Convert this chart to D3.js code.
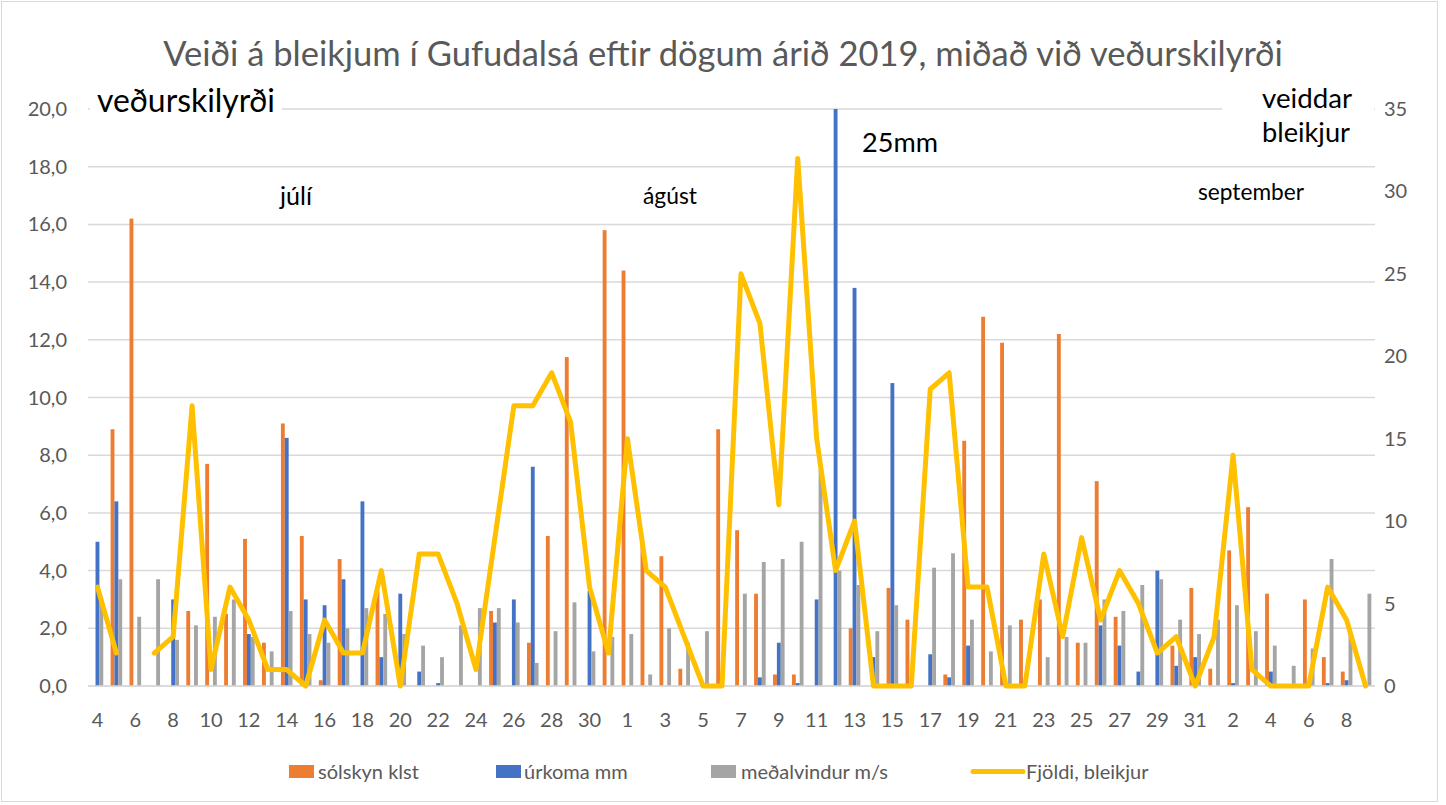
<!DOCTYPE html>
<html>
<head>
<meta charset="utf-8">
<script src="https://cdn.jsdelivr.net/npm/d3@7"></script>
<style>
  body { margin: 0; background: #fff; }
  svg { display: block; }
  text { font-family: Lato, "Open Sans", sans-serif; }
</style>
</head>
<body>
<div id="chart"></div>
<script>
"use strict";

const WIDTH = 1446, HEIGHT = 805;

// day of month, 4. júlí - 9. september 2019
const days = [4,5,6,7,8,9,10,11,12,13,14,15,16,17,18,19,20,21,22,23,24,25,26,27,28,29,30,31,
  1,2,3,4,5,6,7,8,9,10,11,12,13,14,15,16,17,18,19,20,21,22,23,24,25,26,27,28,29,30,31,
  1,2,3,4,5,6,7,8,9];

// sólskyn klst
const sun = [0,8.9,16.2,0,0,2.6,7.7,2.5,5.1,1.5,9.1,5.2,0.2,4.4,0,3.3,0,0,0,0,0,2.6,0,1.5,5.2,11.4,0,15.8,
  14.4,5.0,4.5,0.6,0,8.9,5.4,3.2,0.4,0.4,0,0,2.0,0,3.4,2.3,0,0.4,8.5,12.8,11.9,2.3,3.0,12.2,1.5,7.1,2.4,0,0,1.4,3.4,
  0.6,4.7,6.2,3.2,0,3.0,1.0,0.5,0];

// úrkoma mm
const rain = [5.0,6.4,0,0,3.0,0,0,0,1.8,0,8.6,3.0,2.8,3.7,6.4,1.0,3.2,0.5,0.1,0,0,2.2,3.0,7.6,0,0,3.3,0,
  0,0,0,0,0,0,0,0.3,1.5,0.1,3.0,25,13.8,1.0,10.5,0,1.1,0.3,1.4,0,0,0,0,0,0,2.1,1.4,0.5,4.0,0.7,1.0,
  0,0.1,0,0.5,0,0,0.1,0.2,0];

// meðalvindur m/s
const wind = [3.0,3.7,2.4,3.7,1.6,2.1,2.4,3.0,1.7,1.2,2.6,1.8,1.5,2.0,2.7,2.5,1.8,1.4,1.0,2.1,2.7,2.7,2.2,0.8,1.9,2.9,1.2,1.7,
  1.8,0.4,2.0,1.5,1.9,0,3.2,4.3,4.4,5.0,7.5,4.0,3.5,1.9,2.8,0,4.1,4.6,2.3,1.2,2.1,0,1.0,1.7,1.5,3.0,2.6,3.5,3.7,2.3,1.8,
  2.3,2.8,1.9,1.4,0.7,1.3,4.4,1.8,3.2];

// Fjöldi, bleikjur (null = engin skráning)
const fish = [6,2,null,2,3,17,1,6,4,1,1,0,4,2,2,7,0,8,8,5,1,9,17,17,19,16,6,2,
  15,7,6,3,0,0,25,22,11,32,15,7,10,0,0,0,18,19,6,6,0,0,8,3,9,4,7,5,2,3,0,
  3,14,1,0,0,0,6,4,0];

const leftTicks = [0,2,4,6,8,10,12,14,16,18,20];
const rightTicks = [0,5,10,15,20,25,30,35];
const barSeries = ["sun", "rain", "wind"];
const barColors = { sun: "#ED7D31", rain: "#4472C4", wind: "#A5A5A5" };
const lineColor = "#FFC000";
const legendLabels = ["sólskyn klst", "úrkoma mm", "meðalvindur m/s", "Fjöldi, bleikjur"];

const rows = days.map(function (d, i) {
  return { i: i, day: d, sun: sun[i], rain: rain[i], wind: wind[i], fish: fish[i] };
});

const svg = d3.select("#chart").append("svg")
  .attr("width", WIDTH)
  .attr("height", HEIGHT);

// chart frame
svg.append("rect")
  .attr("x", 1.5).attr("y", 1.5)
  .attr("width", 1436).attr("height", 800)
  .attr("fill", "#fff")
  .attr("stroke", "#d9d9d9");

const plot = { left: 88, right: 1375, top: 109, bottom: 686 };

const x0 = d3.scaleBand()
  .domain(rows.map(d => d.i))
  .range([plot.left, plot.right])
  .paddingInner(0.387)
  .paddingOuter(0.1935);
const x1 = d3.scaleBand()
  .domain(barSeries)
  .range([0, x0.bandwidth()]);
const yL = d3.scaleLinear().domain([0, 20]).range([plot.bottom, plot.top]);
const yR = d3.scaleLinear().domain([0, 35]).range([plot.bottom, plot.top]);

// gridlines
svg.append("g")
  .selectAll("line")
  .data(leftTicks)
  .join("line")
  .attr("x1", plot.left).attr("x2", plot.right)
  .attr("y1", d => yL(d)).attr("y2", d => yL(d))
  .attr("stroke", "#d9d9d9")
  .attr("stroke-width", 1.5);

// title
function fit(t, w) {
  const fs = parseFloat(t.attr("font-size"));
  const len = t.node().getComputedTextLength();
  t.attr("font-size", (fs * w / len).toFixed(2));
}
const title = svg.append("text")
  .attr("x", 723).attr("y", 66)
  .attr("text-anchor", "middle")
  .attr("font-size", 28)
  .attr("fill", "#595959")
  .text("Veiði á bleikjum í Gufudalsá eftir dögum árið 2019, miðað við veðurskilyrði");
fit(title, 1120);

// bars
svg.append("g")
  .selectAll("g")
  .data(rows)
  .join("g")
  .attr("transform", d => "translate(" + x0(d.i) + ",0)")
  .selectAll("rect")
  .data(d => barSeries.map(k => ({ key: k, value: d[k] })))
  .join("rect")
  .attr("x", d => x1(d.key))
  .attr("width", x1.bandwidth())
  .attr("y", d => yL(Math.min(d.value, 20)))
  .attr("height", d => yL(0) - yL(Math.min(d.value, 20)))
  .attr("fill", d => barColors[d.key]);

// white label boxes over the top gridline
svg.append("rect").attr("x", plot.left + 2).attr("y", 90).attr("width", 192).attr("height", 34).attr("fill", "#fff");
svg.append("rect").attr("x", 1222).attr("y", 84).attr("width", 152).attr("height", 70).attr("fill", "#fff");

// x axis line
svg.append("line")
  .attr("x1", plot.left).attr("x2", plot.right)
  .attr("y1", plot.bottom).attr("y2", plot.bottom)
  .attr("stroke", "#d9d9d9")
  .attr("stroke-width", 1.5);

// fish line
const line = d3.line()
  .defined(d => d.fish !== null)
  .x(d => x0(d.i) + x0.bandwidth() / 2)
  .y(d => yR(d.fish));
svg.append("path")
  .datum(rows)
  .attr("fill", "none")
  .attr("stroke", lineColor)
  .attr("stroke-width", 5)
  .attr("stroke-linejoin", "round")
  .attr("stroke-linecap", "round")
  .attr("d", line);

// axes labels
const fmt = d => d3.format(".1f")(d).replace(".", ",");
svg.append("g")
  .selectAll("text")
  .data(leftTicks)
  .join("text")
  .attr("x", 67).attr("y", d => yL(d))
  .attr("dy", "0.35em")
  .attr("text-anchor", "end")
  .attr("font-size", 20)
  .attr("fill", "#595959")
  .text(fmt);

svg.append("g")
  .selectAll("text")
  .data(rightTicks)
  .join("text")
  .attr("x", 1384).attr("y", d => yR(d))
  .attr("dy", "0.35em")
  .attr("font-size", 20)
  .attr("fill", "#595959")
  .text(d => d);

svg.append("g")
  .selectAll("text")
  .data(rows.filter(d => d.i % 2 === 0))
  .join("text")
  .attr("x", d => x0(d.i) + x0.bandwidth() / 2)
  .attr("y", 720)
  .attr("dy", "0.35em")
  .attr("text-anchor", "middle")
  .attr("font-size", 20)
  .attr("fill", "#595959")
  .text(d => d.day);

// annotations
function note(x, y, size, str, w) {
  const t = svg.append("text")
    .attr("x", x).attr("y", y)
    .attr("font-size", size)
    .attr("fill", "#000")
    .text(str);
  if (w) fit(t, w);
  return t;
}
note(97, 112, 24, "veðurskilyrði", 178);
note(1262, 108, 24, "veiddar", 90);
note(1262, 142, 24, "bleikjur", 88);
note(862, 152, 24, "25mm", 76);
note(280, 205, 19, "júlí", 32);
note(643, 204, 19, "ágúst", 54);
note(1198, 200, 19, "september", 106);

// legend
const legend = svg.append("g");
const lx = [289, 496, 711, 973];
const tx = [318, 524, 741, 1026];
barSeries.forEach(function (k, i) {
  legend.append("rect")
    .attr("x", lx[i]).attr("y", 765)
    .attr("width", 25).attr("height", 13)
    .attr("fill", barColors[k]);
});
legend.append("line")
  .attr("x1", lx[3]).attr("x2", lx[3] + 50)
  .attr("y1", 771.5).attr("y2", 771.5)
  .attr("stroke", lineColor)
  .attr("stroke-width", 5)
  .attr("stroke-linecap", "round");
legend.selectAll("text")
  .data(legendLabels)
  .join("text")
  .attr("x", (d, i) => tx[i])
  .attr("y", 771.5)
  .attr("dy", "0.35em")
  .attr("font-size", 20)
  .attr("fill", "#595959")
  .text(d => d);
</script>
</body>
</html>
